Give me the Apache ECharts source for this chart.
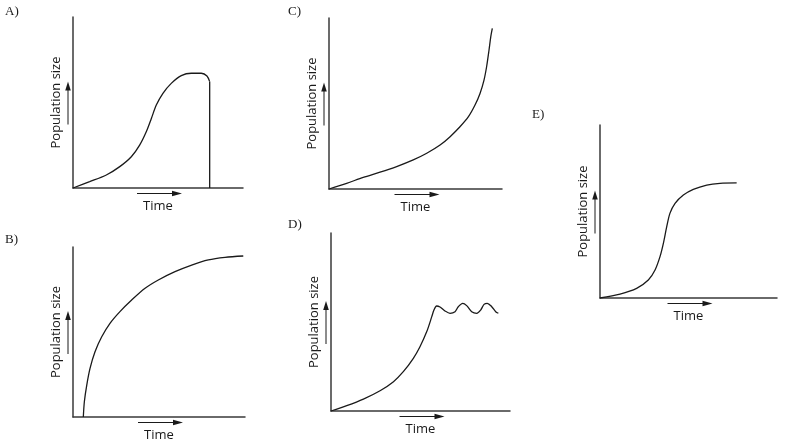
<!DOCTYPE html>
<html>
<head>
<meta charset="utf-8">
<script src="https://cdn.jsdelivr.net/npm/echarts@6/dist/echarts.min.js"></script>
<style>html,body{margin:0;padding:0;background:#fff}#c{width:800px;height:444px}</style>
</head>
<body>
<div id="c"></div>
<script>
// Panel labels and axis titles
const panelLabels = ['A)', 'B)', 'C)', 'D)', 'E)'];
const xTitle = 'Time';
const yTitle = 'Population size';

// Curve data, in percent of each axis extent (x: time, y: population)
const aX = [0, 9.8, 19.6, 27.5, 34.3, 39.2, 43.1, 46.1, 49.0, 52.9, 57.8, 63.7, 69.6, 75.5, 78.8, 80.4];
const aY = [0, 3.7, 7.6, 12.5, 18.3, 25.1, 32.9, 40.7, 48.5, 55.4, 61.2, 65.7, 67.1, 67.1, 65.5, 62.2];
const aDropX = [80.4, 80.4];
const aDropY = [62.2, 0];

const bX = [6.0, 6.6, 8.0, 9.9, 12.8, 16.7, 21.5, 27.3, 34.1, 41.9, 49.6, 59.3, 69.0, 78.7, 88.4, 99.0];
const bY = [0, 9.0, 18.8, 28.6, 38.4, 47.2, 55.1, 62.0, 68.8, 75.7, 80.6, 85.5, 89.4, 92.4, 93.9, 94.7];

const cX = [0, 10.2, 19.8, 29.5, 39.1, 48.7, 56.5, 64.2, 70.0, 75.7, 80.6, 84.4, 87.3, 89.6, 91.1, 92.5, 93.5, 94.4];
const cY = [0, 3.3, 6.8, 9.8, 13.1, 17.0, 20.9, 25.7, 30.6, 36.4, 42.3, 49.1, 55.9, 63.7, 71.5, 81.3, 89.0, 93.9];

const dX = [0, 8.8, 18.1, 27.4, 34.9, 40.4, 46.0, 49.7, 53.5, 56.3, 57.5, 59.0, 60.9, 63.7, 66.5, 69.3, 71.1, 73.6, 75.8, 78.6, 81.4, 83.6, 85.5, 87.3, 89.8, 92.0, 93.5];
const dY = [0, 3.0, 6.7, 11.4, 16.5, 22.1, 29.6, 36.1, 44.6, 53.0, 56.7, 59.0, 58.4, 56.2, 54.9, 55.8, 58.6, 60.5, 59.2, 55.8, 54.9, 56.7, 59.9, 60.5, 58.6, 55.8, 54.9];

const eX = [0, 11.3, 20.7, 27.3, 31.1, 33.9, 35.8, 37.7, 39.5, 42.4, 47.1, 52.7, 60.3, 67.8, 77.2];
const eY = [0, 2.3, 5.6, 10.4, 16.2, 23.9, 31.6, 41.2, 48.9, 54.7, 59.5, 62.8, 65.3, 66.3, 66.5];

function pairs(xs, ys) { return xs.map((x, i) => [x, ys[i]]); }

// Layout (pixels)
const grids = [
  {left: 73, top: 17, width: 170, height: 171},   // A
  {left: 73, top: 247, width: 172, height: 170},  // B
  {left: 329, top: 18, width: 173, height: 171},  // C
  {left: 331, top: 233, width: 179, height: 178}, // D
  {left: 600, top: 125, width: 177, height: 173}  // E
];
const labelPos = [[5, 12], [5, 240], [288, 12], [288, 225], [532, 115]];

const INK = '#1a1a1a';
const AXIS = '#3a3a3a';
const FONT = '"Open Sans", sans-serif';

const xAxes = grids.map((g, i) => ({
  type: 'value', gridIndex: i, min: 0, max: 100,
  name: xTitle, nameLocation: 'middle', nameGap: 12,
  nameTextStyle: {fontFamily: FONT, fontSize: 13, color: INK},
  axisLine: {onZero: false, lineStyle: {color: AXIS, width: 1.5}},
  axisTick: {show: false}, axisLabel: {show: false}, splitLine: {show: false}
}));
const yAxes = grids.map((g, i) => ({
  type: 'value', gridIndex: i, min: 0, max: 100,
  name: yTitle, nameLocation: 'middle', nameGap: 10, nameRotate: 90,
  nameTextStyle: {fontFamily: FONT, fontSize: 13, color: INK},
  axisLine: {show: true, onZero: false, lineStyle: {color: AXIS, width: 1.5}},
  axisTick: {show: false}, axisLabel: {show: false}, splitLine: {show: false}
}));

const curves = [
  {i: 0, d: pairs(aX, aY), smooth: 0.3},
  {i: 0, d: pairs(aDropX, aDropY), smooth: false},
  {i: 1, d: pairs(bX, bY), smooth: 0.3},
  {i: 2, d: pairs(cX, cY), smooth: 0.3},
  {i: 3, d: pairs(dX, dY), smooth: 0.3},
  {i: 4, d: pairs(eX, eY), smooth: 0.3}
];
const series = curves.map(c => ({
  type: 'line', xAxisIndex: c.i, yAxisIndex: c.i, data: c.d,
  smooth: c.smooth, symbol: 'none', silent: true, animation: false,
  lineStyle: {color: INK, width: 1.3}
}));

// Arrows and panel letters
const graphic = [];
grids.forEach((g, i) => {
  const bottom = g.top + g.height;
  const yc = g.top + g.height / 2 + 1;
  const xc = g.left + g.width / 2 + 1;
  const ax = g.left - 5;
  // vertical arrow
  graphic.push({type: 'line', shape: {x1: ax, y1: yc + 21, x2: ax, y2: yc - 14},
    style: {stroke: INK, lineWidth: 1}});
  graphic.push({type: 'polygon', shape: {points: [[ax, yc - 22], [ax - 2.8, yc - 13], [ax + 2.8, yc - 13]]},
    style: {fill: INK}});
  // horizontal arrow
  const ay = bottom + 5.5;
  graphic.push({type: 'line', shape: {x1: xc - 22, y1: ay, x2: xc + 14, y2: ay},
    style: {stroke: INK, lineWidth: 1}});
  graphic.push({type: 'polygon', shape: {points: [[xc + 23, ay], [xc + 13, ay - 2.8], [xc + 13, ay + 2.8]]},
    style: {fill: INK}});
  graphic.push({type: 'text', x: labelPos[i][0], y: labelPos[i][1],
    style: {text: panelLabels[i], fill: INK, font: '13px "Liberation Serif", serif', verticalAlign: 'middle'}});
});

const chart = echarts.init(document.getElementById('c'), null, {renderer: 'canvas'});
chart.setOption({
  animation: false,
  backgroundColor: '#fff',
  grid: grids.map(g => Object.assign({containLabel: false}, g)),
  xAxis: xAxes,
  yAxis: yAxes,
  series: series,
  graphic: graphic
});
</script>
</body>
</html>
